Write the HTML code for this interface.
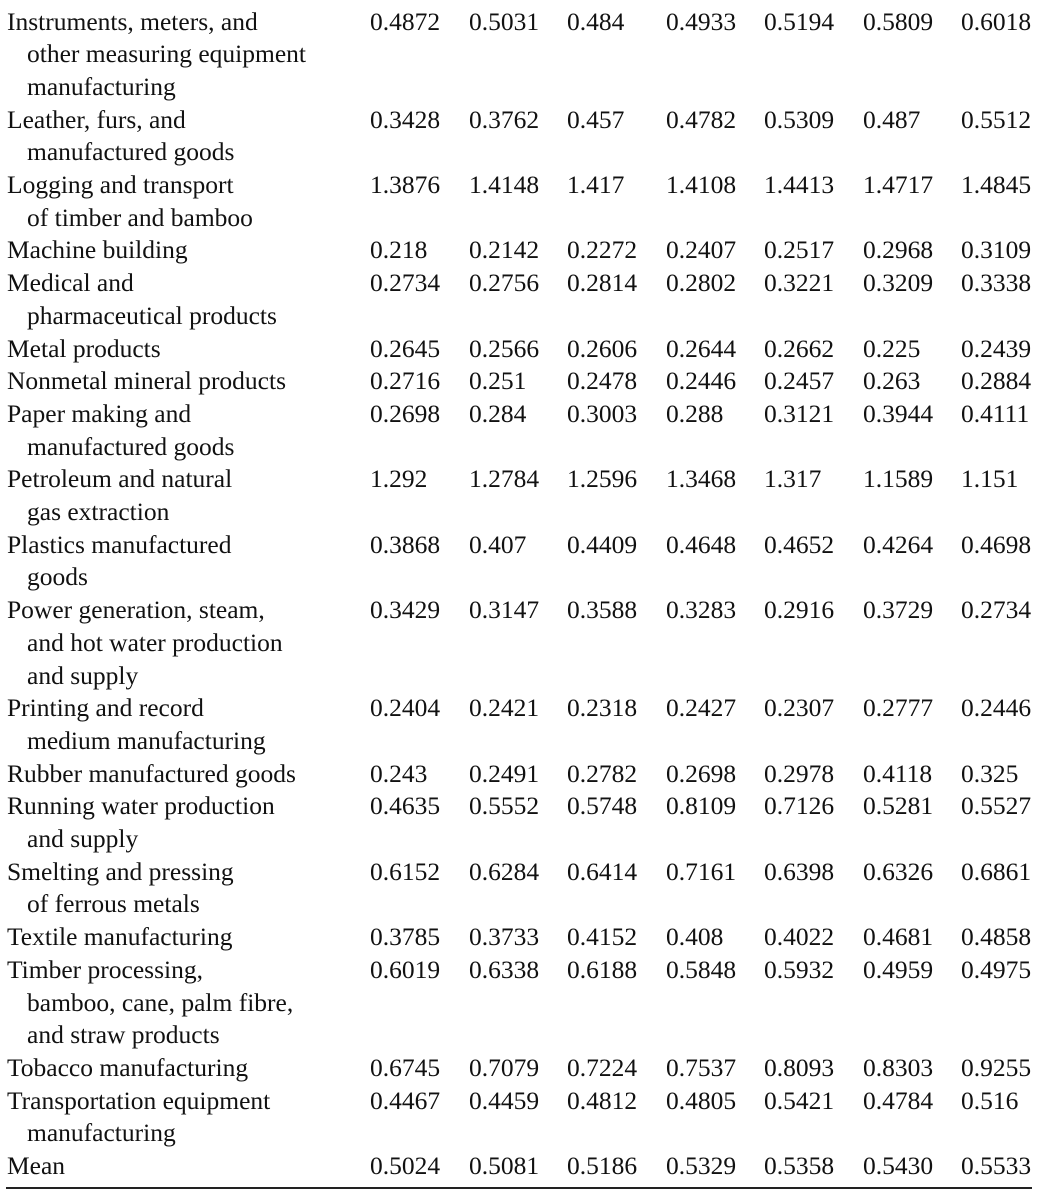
<!DOCTYPE html>
<html><head><meta charset="utf-8"><style>
html,body{margin:0;padding:0;background:#fff;}
body{width:1040px;height:1194px;position:relative;overflow:hidden;font-family:"Liberation Serif",serif;font-size:25.5px;color:#111;}
.t{position:absolute;white-space:nowrap;line-height:32.7px;}
#rule{position:absolute;left:6px;top:1187px;width:1026px;height:1.5px;background:#222;}
</style></head><body>
<div id="rule"></div>
<script>
const labels = [
 ["Instruments, meters, and","other measuring equipment","manufacturing"],
 ["Leather, furs, and","manufactured goods"],
 ["Logging and transport","of timber and bamboo"],
 ["Machine building"],
 ["Medical and","pharmaceutical products"],
 ["Metal products"],
 ["Nonmetal mineral products"],
 ["Paper making and","manufactured goods"],
 ["Petroleum and natural","gas extraction"],
 ["Plastics manufactured","goods"],
 ["Power generation, steam,","and hot water production","and supply"],
 ["Printing and record","medium manufacturing"],
 ["Rubber manufactured goods"],
 ["Running water production","and supply"],
 ["Smelting and pressing","of ferrous metals"],
 ["Textile manufacturing"],
 ["Timber processing,","bamboo, cane, palm fibre,","and straw products"],
 ["Tobacco manufacturing"],
 ["Transportation equipment","manufacturing"],
 ["Mean"]
];
const values = [
 ["0.4872","0.5031","0.484","0.4933","0.5194","0.5809","0.6018"],
 ["0.3428","0.3762","0.457","0.4782","0.5309","0.487","0.5512"],
 ["1.3876","1.4148","1.417","1.4108","1.4413","1.4717","1.4845"],
 ["0.218","0.2142","0.2272","0.2407","0.2517","0.2968","0.3109"],
 ["0.2734","0.2756","0.2814","0.2802","0.3221","0.3209","0.3338"],
 ["0.2645","0.2566","0.2606","0.2644","0.2662","0.225","0.2439"],
 ["0.2716","0.251","0.2478","0.2446","0.2457","0.263","0.2884"],
 ["0.2698","0.284","0.3003","0.288","0.3121","0.3944","0.4111"],
 ["1.292","1.2784","1.2596","1.3468","1.317","1.1589","1.151"],
 ["0.3868","0.407","0.4409","0.4648","0.4652","0.4264","0.4698"],
 ["0.3429","0.3147","0.3588","0.3283","0.2916","0.3729","0.2734"],
 ["0.2404","0.2421","0.2318","0.2427","0.2307","0.2777","0.2446"],
 ["0.243","0.2491","0.2782","0.2698","0.2978","0.4118","0.325"],
 ["0.4635","0.5552","0.5748","0.8109","0.7126","0.5281","0.5527"],
 ["0.6152","0.6284","0.6414","0.7161","0.6398","0.6326","0.6861"],
 ["0.3785","0.3733","0.4152","0.408","0.4022","0.4681","0.4858"],
 ["0.6019","0.6338","0.6188","0.5848","0.5932","0.4959","0.4975"],
 ["0.6745","0.7079","0.7224","0.7537","0.8093","0.8303","0.9255"],
 ["0.4467","0.4459","0.4812","0.4805","0.5421","0.4784","0.516"],
 ["0.5024","0.5081","0.5186","0.5329","0.5358","0.5430","0.5533"]
];
const colX = [370,469,567,666,764,863,961];
const LH = 32.7, TOP = 5.5;
let line = 0;
labels.forEach((lab, r) => {
  lab.forEach((txt, k) => {
    const d = document.createElement('div');
    d.className = 't';
    d.style.left = (k === 0 ? 7 : 27) + 'px';
    d.style.top = (TOP + (line + k) * LH) + 'px';
    d.textContent = txt;
    
    
    document.body.appendChild(d);
  });
  values[r].forEach((v, c) => {
    const d = document.createElement('div');
    d.className = 't';
    d.style.left = colX[c] + 'px';
    d.style.top = (TOP + line * LH) + 'px';
    d.textContent = v;
    
    
    document.body.appendChild(d);
  });
  line += lab.length;
});
</script>
</body></html>
